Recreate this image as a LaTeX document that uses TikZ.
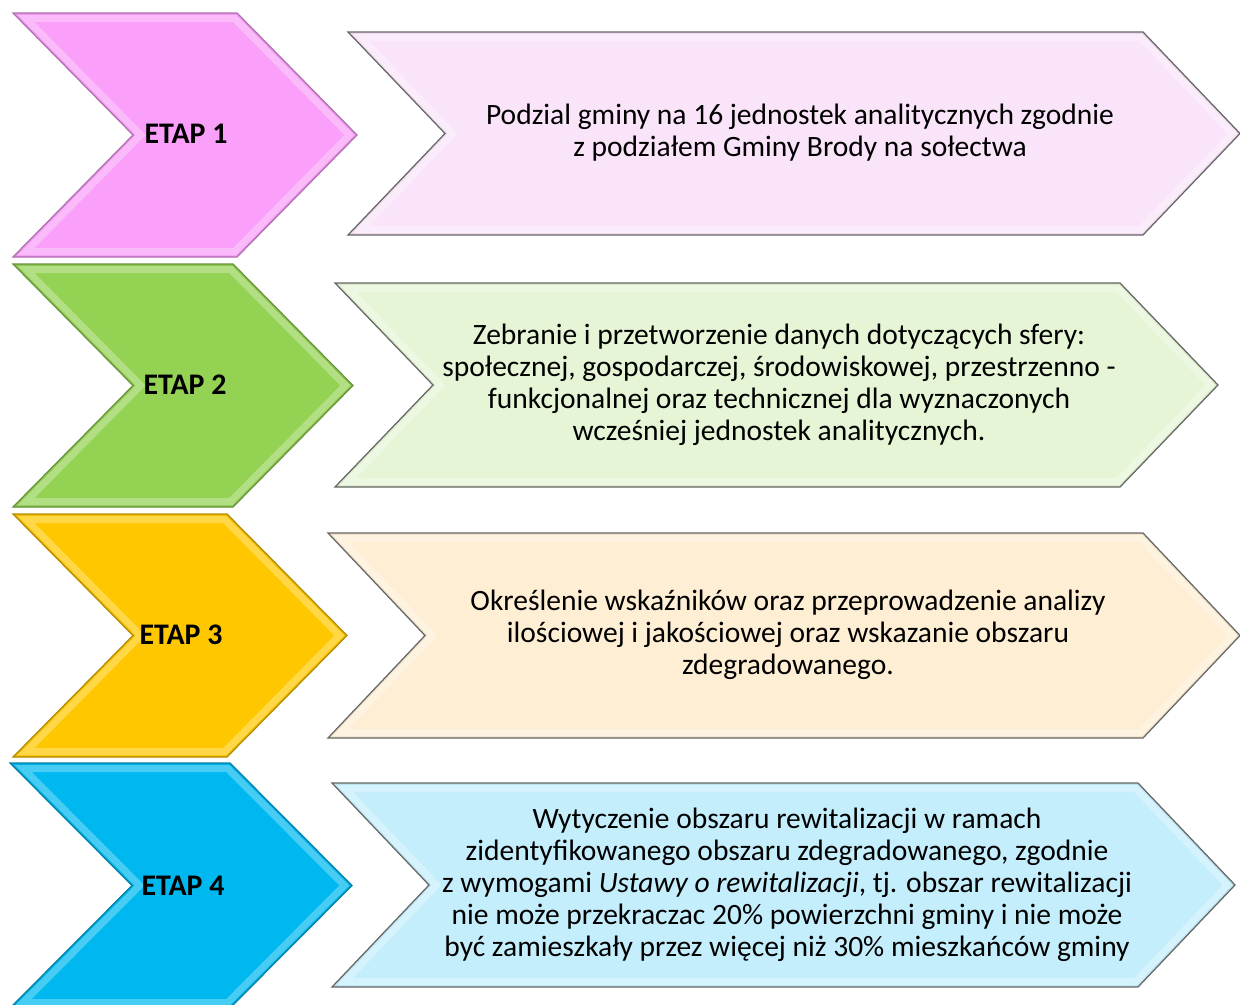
\documentclass[tikz,border=0pt]{standalone}
\usepackage{fontspec}
\setmainfont{Carlito}
\usepackage{xcolor}
\usetikzlibrary{positioning}
\definecolor{etapPink}{RGB}{250,160,250}
\definecolor{etapGreen}{RGB}{148,210,84}
\definecolor{etapGold}{RGB}{255,199,0}
\definecolor{etapBlue}{RGB}{0,184,240}
\definecolor{descPink}{RGB}{250,228,250}
\definecolor{descGreen}{RGB}{229,245,213}
\definecolor{descCream}{RGB}{253,238,212}
\definecolor{descCyan}{RGB}{196,238,252}

% chevron: x0, x1 (end of flat top), tip x, top y, bottom y, colour, outline
\newcommand{\chevron}[7]{%
  \pgfmathsetmacro\chevMid{(#4+#5)/2}
  \pgfmathsetmacro\chevNotch{#1+#3-#2}
  \begin{scope}
    \clip (#1,#4) -- (#2,#4) -- (#3,\chevMid) -- (#2,#5) -- (#1,#5) -- (\chevNotch,\chevMid) -- cycle;
    \fill[#6] (#1,#4) -- (#2,#4) -- (#3,\chevMid) -- (#2,#5) -- (#1,#5) -- (\chevNotch,\chevMid) -- cycle;
    \draw[#6!72!white, line width=0.36cm, line join=miter]
      (#1,#4) -- (#2,#4) -- (#3,\chevMid) -- (#2,#5) -- (#1,#5) -- (\chevNotch,\chevMid) -- cycle;
    \draw[#6!95!black, line width=0.07cm, line join=miter]
      (#1,#4) -- (#2,#4) -- (#3,\chevMid) -- (#2,#5) -- (#1,#5) -- (\chevNotch,\chevMid) -- cycle;
  \end{scope}
  \draw[#7, line width=0.7pt, line join=miter]
    (#1,#4) -- (#2,#4) -- (#3,\chevMid) -- (#2,#5) -- (#1,#5) -- (\chevNotch,\chevMid) -- cycle;
}

\begin{document}
\begin{tikzpicture}[
    x=0.02cm, y=-0.02cm,
    etap/.style={font=\fontsize{17}{19}\selectfont\bfseries, text=black},
    desc/.style={font=\fontsize{16.8}{18.2}\selectfont, align=center, text=black}
]
\useasboundingbox (0,0) rectangle (1240,1004);

% left chevrons
\chevron{13}{237}{357}{13}{257}{etapPink}{etapPink!70!black}
\chevron{13}{233}{353}{264}{507}{etapGreen}{etapGreen!70!black}
\chevron{13}{227}{347}{514}{757}{etapGold}{etapGold!70!black}
\chevron{10}{230}{352}{763}{1008}{etapBlue}{etapBlue!70!black}

% right chevrons
\chevron{348}{1143}{1240}{32}{235}{descPink}{gray!80!black}
\chevron{335}{1120}{1218}{283}{487}{descGreen}{gray!80!black}
\chevron{328}{1143}{1240}{533}{738}{descCream}{gray!80!black}
\chevron{332}{1138}{1235}{783}{987}{descCyan}{gray!80!black}

\node[etap] (etap1) at (186,134) {ETAP 1};
\node[etap] (etap2) at (185,385) {ETAP 2};
\node[etap] (etap3) at (181,635) {ETAP 3};
\node[etap] (etap4) at (183,886) {ETAP 4};

\node[desc] (desc1) at (800,133) {Podzial gminy na 16 jednostek analitycznych zgodnie\\z podziałem Gminy Brody na sołectwa};
\node[desc] (desc2) at (779,385) {Zebranie i przetworzenie danych dotyczących sfery:\\społecznej, gospodarczej, środowiskowej, przestrzenno -\\funkcjonalnej oraz technicznej dla wyznaczonych\\wcześniej jednostek analitycznych.};
\node[desc] (desc3) at (788,635) {Określenie wskaźników oraz przeprowadzenie analizy\\ilościowej i jakościowej oraz wskazanie obszaru\\zdegradowanego.};
\node[desc] (desc4) at (787,885) {Wytyczenie obszaru rewitalizacji w ramach\\zidentyfikowanego obszaru zdegradowanego, zgodnie\\z wymogami \textit{Ustawy o rewitalizacji}, tj. obszar rewitalizacji\\nie może przekraczac 20\% powierzchni gminy i nie może\\być zamieszkały przez więcej niż 30\% mieszkańców gminy};
\end{tikzpicture}
\end{document}
